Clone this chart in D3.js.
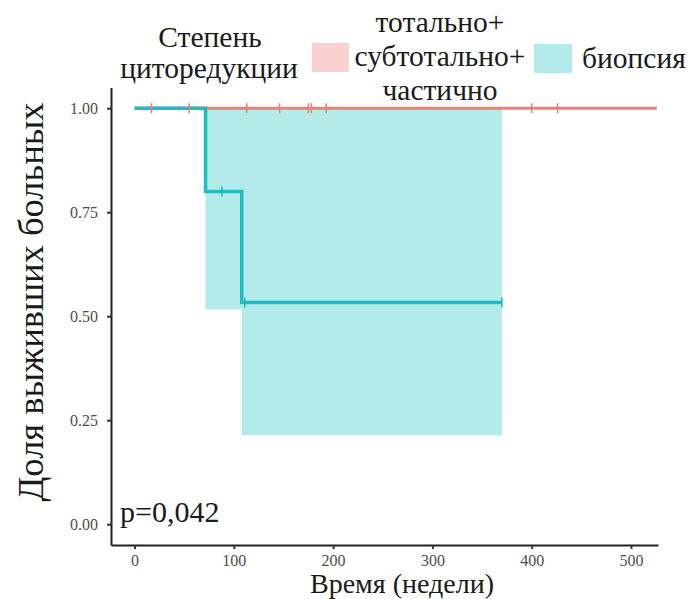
<!DOCTYPE html>
<html>
<head>
<meta charset="utf-8">
<script src="https://cdn.jsdelivr.net/npm/d3@7"></script>
<style>
  body { margin: 0; background: #fff; }
</style>
</head>
<body>
<svg id="chart" width="688" height="599"></svg>
<script>
// survival data (time in weeks)
const redTimes = [0, 526];
const redSurv = [1, 1];
const redCensor = [17, 55, 113, 146, 175, 178, 193, 400, 426];

const blueTimes = [0, 71.5, 108, 370];
const blueSurv = [1, 0.8, 0.533, 0.533];
const blueLower = [1, 0.516, 0.214, 0.214];
const blueUpper = [1, 1, 1, 1];
const blueCensorTimes = [88, 111, 370];
const blueCensorSurv = [0.8, 0.533, 0.533];

const xTicks = [0, 100, 200, 300, 400, 500];
const yTicks = [0, 0.25, 0.5, 0.75, 1];

const serif = "'Liberation Serif', 'Times New Roman', Tinos, serif";
const redColor = '#f17d78';
const blueColor = '#1dbdc1';
const blueFill = '#b3ebeb';
const redFill = '#fbd0d0';

const svg = d3.select('#chart');
svg.append('rect').attr('width', 688).attr('height', 599).attr('fill', '#fff');

const x = d3.scaleLinear().domain([-23.7, 527.2]).range([111, 658]);
const y = d3.scaleLinear().domain([-0.05, 1.05]).range([545, 87.4]);

// confidence band for biopsy group
const band = blueTimes.map((t, i) => ({ t, lo: blueLower[i], hi: blueUpper[i] }));
svg.append('path')
  .datum(band)
  .attr('fill', blueFill)
  .attr('d', d3.area()
    .curve(d3.curveStepAfter)
    .x(d => x(d.t))
    .y0(d => y(d.lo))
    .y1(d => y(d.hi)));

const line = d3.line()
  .curve(d3.curveStepAfter)
  .x(d => x(d[0]))
  .y(d => y(d[1]));

svg.append('path')
  .datum(redTimes.map((t, i) => [t, redSurv[i]]))
  .attr('fill', 'none')
  .attr('stroke', redColor)
  .attr('stroke-width', 3)
  .attr('d', line);

svg.append('path')
  .datum(blueTimes.map((t, i) => [t, blueSurv[i]]))
  .attr('fill', 'none')
  .attr('stroke', blueColor)
  .attr('stroke-width', 3.5)
  .attr('d', line);

// censor marks
svg.selectAll('.cens-red')
  .data(redCensor)
  .enter()
  .append('line')
  .attr('class', 'cens-red')
  .attr('x1', d => x(d)).attr('x2', d => x(d))
  .attr('y1', y(1) - 5).attr('y2', y(1) + 5)
  .attr('stroke', redColor)
  .attr('stroke-width', 1.6);

svg.selectAll('.cens-blue')
  .data(blueCensorTimes)
  .enter()
  .append('line')
  .attr('class', 'cens-blue')
  .attr('x1', d => x(d)).attr('x2', d => x(d))
  .attr('y1', (d, i) => y(blueCensorSurv[i]) - 5)
  .attr('y2', (d, i) => y(blueCensorSurv[i]) + 5)
  .attr('stroke', blueColor)
  .attr('stroke-width', 1.6);

// axes
const xAxis = svg.append('g')
  .attr('transform', `translate(0,${y(-0.05)})`)
  .call(d3.axisBottom(x).tickValues(xTicks).tickSize(4).tickSizeOuter(0).tickPadding(6));

const yAxis = svg.append('g')
  .attr('transform', `translate(${x(-23.7)},0)`)
  .call(d3.axisLeft(y).tickValues(yTicks).tickFormat(d3.format('.2f')).tickSize(4).tickSizeOuter(0).tickPadding(9));

[xAxis, yAxis].forEach(g => {
  g.attr('font-family', serif).attr('font-size', 16);
  g.select('.domain').attr('stroke', '#222').attr('stroke-width', 2);
  g.selectAll('.tick line').attr('stroke', '#333').attr('stroke-width', 2);
  g.selectAll('.tick text').attr('fill', '#4d4d4d');
});

function label(sel, txt, px, py, size, anchor) {
  return sel.append('text')
    .attr('x', px).attr('y', py)
    .attr('text-anchor', anchor || 'start')
    .attr('font-family', serif)
    .attr('font-size', size)
    .attr('fill', '#1a1a1a')
    .text(txt);
}

// axis titles
label(svg, 'Время (недели)', 402, 593, 28, 'middle');
label(svg, 'Доля выживших больных', 0, 0, 36.5, 'middle')
  .attr('transform', 'translate(43,302) rotate(-90)');
label(svg, 'p=0,042', 120, 522, 30);

// legend
const legend = svg.append('g');
label(legend, 'Степень', 210, 47, 29.5, 'middle');
label(legend, 'циторедукции', 209, 78, 29.5, 'middle');

legend.append('rect').attr('x', 312).attr('y', 43).attr('width', 37).attr('height', 29).attr('fill', redFill);
legend.append('rect').attr('x', 534).attr('y', 44).attr('width', 38).attr('height', 29).attr('fill', blueFill);

['тотально+', 'субтотально+', 'частично'].forEach((s, i) => {
  label(legend, s, 440, 31.5 + i * 34.2, 29.5, 'middle');
});
label(legend, 'биопсия', 582, 68, 29.5);
</script>
</body>
</html>
